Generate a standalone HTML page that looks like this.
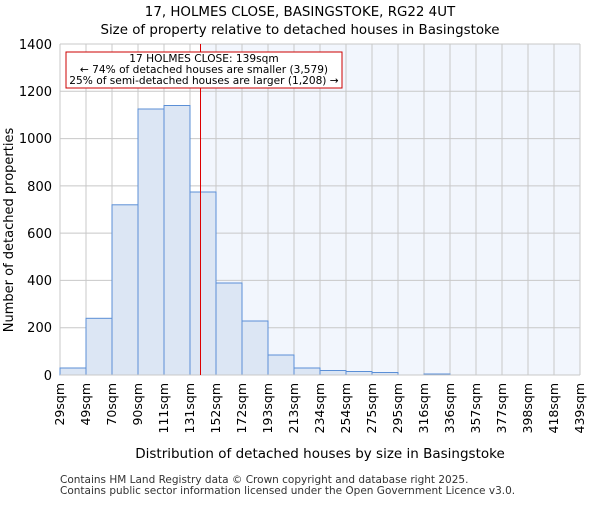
<!DOCTYPE html>
<html><head><style>body{margin:0;background:#fff}</style></head><body>
<svg width="600" height="500" xmlns="http://www.w3.org/2000/svg" font-family="DejaVu Sans, Liberation Sans, sans-serif">
<text x="300" y="16" font-size="13.4" text-anchor="middle">17, HOLMES CLOSE, BASINGSTOKE, RG22 4UT</text>
<text x="300" y="34" font-size="13.4" text-anchor="middle">Size of property relative to detached houses in Basingstoke</text>
<rect x="200" y="44" width="380" height="331" fill="#f2f6fd"/>
<g stroke="#c8c8c8" stroke-width="1">
<line x1="60" x2="580" y1="44" y2="44"/><line x1="60" x2="580" y1="91.3" y2="91.3"/><line x1="60" x2="580" y1="138.6" y2="138.6"/><line x1="60" x2="580" y1="185.9" y2="185.9"/><line x1="60" x2="580" y1="233.1" y2="233.1"/><line x1="60" x2="580" y1="280.4" y2="280.4"/><line x1="60" x2="580" y1="327.7" y2="327.7"/>
<line x1="86" x2="86" y1="44" y2="375"/><line x1="112" x2="112" y1="44" y2="375"/><line x1="138" x2="138" y1="44" y2="375"/><line x1="164" x2="164" y1="44" y2="375"/><line x1="190" x2="190" y1="44" y2="375"/><line x1="216" x2="216" y1="44" y2="375"/><line x1="242" x2="242" y1="44" y2="375"/><line x1="268" x2="268" y1="44" y2="375"/><line x1="294" x2="294" y1="44" y2="375"/><line x1="320" x2="320" y1="44" y2="375"/><line x1="346" x2="346" y1="44" y2="375"/><line x1="372" x2="372" y1="44" y2="375"/><line x1="398" x2="398" y1="44" y2="375"/><line x1="424" x2="424" y1="44" y2="375"/><line x1="450" x2="450" y1="44" y2="375"/><line x1="476" x2="476" y1="44" y2="375"/><line x1="502" x2="502" y1="44" y2="375"/><line x1="528" x2="528" y1="44" y2="375"/><line x1="554" x2="554" y1="44" y2="375"/><line x1="580" x2="580" y1="44" y2="375"/>
<line x1="60" x2="60" y1="44" y2="375"/>
</g>
<g fill="#dce6f4" stroke="#5b8fd6" stroke-width="1">
<rect x="60" y="368" width="26" height="7"/>
<rect x="86" y="318.3" width="26" height="56.7"/>
<rect x="112" y="204.8" width="26" height="170.2"/>
<rect x="138" y="109" width="26" height="266"/>
<rect x="164" y="105.5" width="26" height="269.5"/>
<rect x="190" y="192" width="26" height="183"/>
<rect x="216" y="283" width="26" height="92"/>
<rect x="242" y="321" width="26" height="54"/>
<rect x="268" y="355" width="26" height="20"/>
<rect x="294" y="368" width="26" height="7"/>
<rect x="320" y="370.5" width="26" height="4.5"/>
<rect x="346" y="371.5" width="26" height="3.5"/>
<rect x="372" y="372.5" width="26" height="2.5"/>
<rect x="424" y="374" width="26" height="1"/>
</g>
<line x1="60" x2="580" y1="375" y2="375" stroke="#c8c8c8"/>
<line x1="200.5" x2="200.5" y1="44" y2="375" stroke="#d00" stroke-width="1"/>
<rect x="66" y="52" width="276" height="36" fill="#fff" stroke="#c00" stroke-width="1"/>
<g font-size="10.6" text-anchor="middle"><text x="204" y="62">17 HOLMES CLOSE: 139sqm</text><text x="204" y="73">← 74% of detached houses are smaller (3,579)</text><text x="204" y="84">25% of semi-detached houses are larger (1,208) →</text></g>
<g font-size="13" text-anchor="end"><text x="52" y="49">1400</text><text x="52" y="96">1200</text><text x="52" y="143">1000</text><text x="52" y="191">800</text><text x="52" y="238">600</text><text x="52" y="285">400</text><text x="52" y="332">200</text><text x="52" y="380">0</text></g>
<text transform="translate(13,230) rotate(-90)" font-size="13" text-anchor="middle">Number of detached properties</text>
<g font-size="12.5" text-anchor="end">
<text transform="translate(64,383) rotate(-90)">29sqm</text><text transform="translate(90,383) rotate(-90)">49sqm</text><text transform="translate(116,383) rotate(-90)">70sqm</text><text transform="translate(142,383) rotate(-90)">90sqm</text><text transform="translate(168,383) rotate(-90)">111sqm</text><text transform="translate(194,383) rotate(-90)">131sqm</text><text transform="translate(220,383) rotate(-90)">152sqm</text><text transform="translate(246,383) rotate(-90)">172sqm</text><text transform="translate(272,383) rotate(-90)">193sqm</text><text transform="translate(298,383) rotate(-90)">213sqm</text><text transform="translate(324,383) rotate(-90)">234sqm</text><text transform="translate(350,383) rotate(-90)">254sqm</text><text transform="translate(376,383) rotate(-90)">275sqm</text><text transform="translate(402,383) rotate(-90)">295sqm</text><text transform="translate(428,383) rotate(-90)">316sqm</text><text transform="translate(454,383) rotate(-90)">336sqm</text><text transform="translate(480,383) rotate(-90)">357sqm</text><text transform="translate(506,383) rotate(-90)">377sqm</text><text transform="translate(532,383) rotate(-90)">398sqm</text><text transform="translate(558,383) rotate(-90)">418sqm</text><text transform="translate(584,383) rotate(-90)">439sqm</text>
</g>
<text x="320" y="458" font-size="13.5" text-anchor="middle">Distribution of detached houses by size in Basingstoke</text>
<g font-size="10.5" fill="#333"><text x="60" y="483">Contains HM Land Registry data © Crown copyright and database right 2025.</text><text x="60" y="494">Contains public sector information licensed under the Open Government Licence v3.0.</text></g>
</svg>
</body></html>
